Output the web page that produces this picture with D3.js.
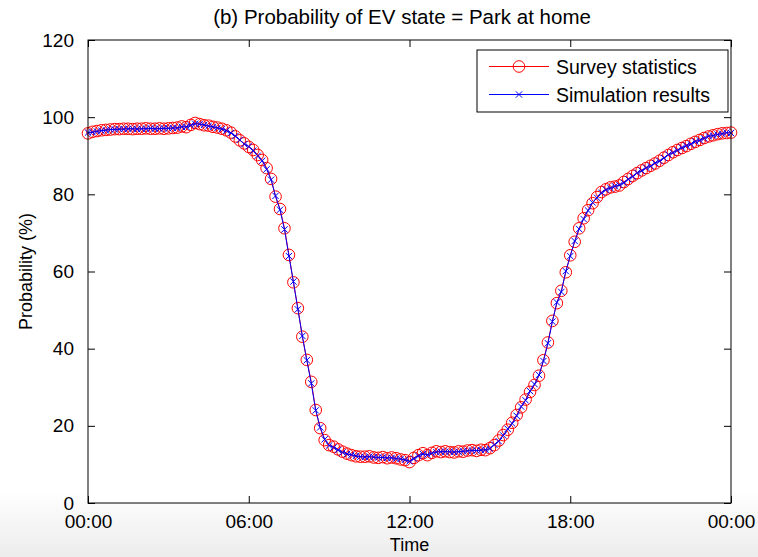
<!DOCTYPE html>
<html>
<head>
<meta charset="utf-8">
<script src="https://cdn.jsdelivr.net/npm/d3@7"></script>
<style>
  html, body { margin: 0; padding: 0; background: #ffffff; }
  svg { display: block; font-family: "Liberation Sans", Arial, sans-serif; }
</style>
</head>
<body>
<svg id="chart" width="758" height="557"></svg>
<script>
// Share of EVs parked at home, sampled every 10 minutes over one day (0..1440 min)
const stepMinutes = 10;

const surveyStatistics = [
  95.8, 96.2, 96.4, 96.6, 96.7, 96.8, 96.9, 96.9, 97.0, 97.0,
  96.9, 97.0, 97.0, 97.1, 97.0, 97.0, 97.1, 97.0, 97.1, 97.2,
  97.3, 97.6, 97.4, 98.0, 98.5, 98.2, 97.9, 97.8, 97.5, 97.3,
  97.0, 96.6, 96.0, 95.0, 94.0, 93.2, 92.3, 91.5, 90.2, 88.9,
  86.8, 84.0, 79.4, 76.2, 71.2, 64.3, 57.2, 50.5, 43.1, 37.1,
  31.4, 24.1, 19.4, 16.3, 15.0, 14.6, 13.9, 13.3, 12.8, 12.4,
  12.1, 12.0, 12.0, 12.1, 11.8, 11.7, 11.9, 11.6, 11.8, 11.6,
  11.3, 11.1, 10.6, 11.7, 12.4, 12.9, 12.4, 13.0, 13.4, 13.2,
  13.4, 13.2, 13.1, 13.4, 13.3, 13.6, 13.7, 13.5, 13.8, 13.7,
  14.2, 15.0, 16.2, 17.6, 19.0, 20.8, 22.8, 24.8, 26.8, 28.8,
  30.6, 33.0, 37.0, 41.6, 47.2, 51.8, 55.0, 59.8, 64.2, 67.7,
  71.2, 73.8, 75.9, 77.7, 79.3, 80.6, 81.3, 81.8, 82.0, 82.3,
  83.2, 84.0, 84.8, 85.5, 86.2, 86.8, 87.4, 88.0, 88.7, 89.5,
  90.2, 90.9, 91.5, 92.0, 92.5, 93.1, 93.6, 94.1, 94.6, 95.0,
  95.3, 95.6, 95.8, 95.9, 96.0
];

const simulationResults = [
  96.0, 96.1, 96.3, 96.5, 96.6, 96.8, 96.8, 96.9, 96.9, 97.0,
  97.0, 96.9, 97.0, 97.0, 97.1, 97.0, 97.0, 97.1, 97.1, 97.2,
  97.2, 97.5, 97.5, 97.9, 98.3, 98.2, 98.0, 97.7, 97.5, 97.2,
  96.9, 96.5, 95.9, 95.1, 94.1, 93.0, 92.4, 91.3, 90.0, 88.7,
  86.5, 83.8, 79.6, 76.0, 70.9, 64.0, 57.4, 50.2, 43.3, 37.0,
  31.0, 24.0, 19.6, 16.5, 14.9, 14.4, 13.7, 13.1, 12.7, 12.5,
  12.2, 12.0, 11.9, 12.0, 11.9, 11.8, 11.8, 11.7, 11.7, 11.5,
  11.4, 11.2, 10.8, 11.5, 12.2, 12.7, 12.5, 12.9, 13.2, 13.3,
  13.3, 13.3, 13.2, 13.3, 13.4, 13.5, 13.6, 13.6, 13.7, 13.8,
  14.1, 15.1, 16.0, 17.5, 19.2, 20.6, 22.6, 25.0, 26.6, 29.0,
  30.8, 33.2, 36.8, 41.4, 47.0, 52.0, 54.7, 60.1, 64.0, 67.9,
  71.0, 73.6, 75.8, 77.9, 79.1, 80.4, 81.2, 81.6, 82.1, 82.4,
  83.0, 83.9, 84.6, 85.6, 86.1, 86.9, 87.3, 88.1, 88.6, 89.4,
  90.3, 90.8, 91.4, 92.1, 92.6, 93.0, 93.7, 94.0, 94.5, 95.1,
  95.2, 95.5, 95.7, 96.0, 95.9
];

const xTickMinutes = [0, 360, 720, 1080, 1440];
const xTickLabels = ["00:00", "06:00", "12:00", "18:00", "00:00"];
const yTicks = [0, 20, 40, 60, 80, 100, 120];
const legendLabels = ["Survey statistics", "Simulation results"];
const titleText = "(b) Probability of EV state = Park at home";
const xLabelText = "Time";
const yLabelText = "Probability (%)";

const svg = d3.select("#chart");
const W = 758, H = 557;
const plot = { left: 88, right: 731, top: 40, bottom: 503 };

// soft grey fade along the bottom edge of the figure
const defs = svg.append("defs");
const fade = defs.append("linearGradient").attr("id", "bottomFade")
  .attr("x1", 0).attr("y1", 0).attr("x2", 0).attr("y2", 1);
fade.append("stop").attr("offset", "0%").attr("stop-color", "#ffffff");
fade.append("stop").attr("offset", "100%").attr("stop-color", "#ececec");
svg.append("rect").attr("x", 0).attr("y", 0).attr("width", W).attr("height", H).attr("fill", "#ffffff");
svg.append("rect").attr("x", 0).attr("y", 490).attr("width", W).attr("height", H - 490).attr("fill", "url(#bottomFade)");
svg.append("rect").attr("x", plot.left).attr("y", plot.top)
  .attr("width", plot.right - plot.left).attr("height", plot.bottom - plot.top).attr("fill", "#ffffff");

const x = d3.scaleLinear().domain([0, 1440]).range([plot.left, plot.right]);
const y = d3.scaleLinear().domain([0, 120]).range([plot.bottom, plot.top]);

const toPoints = arr => arr.map((v, i) => ({ t: i * stepMinutes, v }));
const surveyPts = toPoints(surveyStatistics);
const simPts = toPoints(simulationResults);

const line = d3.line().x(d => x(d.t)).y(d => y(d.v));

const tickFont = 19;
const tickLen = 7;

// axes: ticks drawn inward on all four sides, labels on bottom and left
const bottomAxis = d3.axisBottom(x).tickValues(xTickMinutes)
  .tickFormat((d, i) => xTickLabels[i]).tickSizeInner(-tickLen).tickSizeOuter(0).tickPadding(12);
const leftAxis = d3.axisLeft(y).tickValues(yTicks).tickSizeInner(-tickLen).tickSizeOuter(0).tickPadding(14);
const topAxis = d3.axisTop(x).tickValues(xTickMinutes).tickFormat("").tickSizeInner(-tickLen).tickSizeOuter(0);
const rightAxis = d3.axisRight(y).tickValues(yTicks).tickFormat("").tickSizeInner(-tickLen).tickSizeOuter(0);

function styleAxis(g) {
  g.select(".domain").remove();
  g.selectAll(".tick line").attr("stroke", "#000").attr("stroke-width", 1);
  g.selectAll(".tick text").attr("fill", "#000").attr("font-size", tickFont)
    .attr("font-family", "Liberation Sans, Arial, sans-serif");
}

// data series: survey (red line + circles) then simulation (blue line + crosses)
const gData = svg.append("g");
gData.append("path").datum(surveyPts).attr("d", line)
  .attr("fill", "none").attr("stroke", "#ff0000").attr("stroke-width", 1);
gData.selectAll("circle.survey").data(surveyPts).join("circle").attr("class", "survey")
  .attr("cx", d => x(d.t)).attr("cy", d => y(d.v)).attr("r", 5.8)
  .attr("fill", "none").attr("stroke", "#ff0000").attr("stroke-width", 1);

gData.append("path").datum(simPts).attr("d", line)
  .attr("fill", "none").attr("stroke", "#0000ff").attr("stroke-width", 1);
const cross = d3.symbol().type(d3.symbolX).size(28);
gData.selectAll("path.sim").data(simPts).join("path").attr("class", "sim")
  .attr("transform", d => `translate(${x(d.t)},${y(d.v)})`)
  .attr("d", cross).attr("fill", "none").attr("stroke", "#0000ff").attr("stroke-width", 1);

svg.append("g").attr("transform", `translate(0,${plot.bottom})`).call(bottomAxis).call(styleAxis);
svg.append("g").attr("transform", `translate(${plot.left},0)`).call(leftAxis).call(styleAxis);
svg.append("g").attr("transform", `translate(0,${plot.top})`).call(topAxis).call(styleAxis);
svg.append("g").attr("transform", `translate(${plot.right},0)`).call(rightAxis).call(styleAxis);

// axes box
svg.append("rect").attr("x", plot.left).attr("y", plot.top)
  .attr("width", plot.right - plot.left).attr("height", plot.bottom - plot.top)
  .attr("fill", "none").attr("stroke", "#000").attr("stroke-width", 1);

// titles
svg.append("text").attr("x", 402).attr("y", 24)
  .attr("text-anchor", "middle").attr("font-size", 20.5).attr("fill", "#000").text(titleText);
svg.append("text").attr("x", (plot.left + plot.right) / 2).attr("y", 551)
  .attr("text-anchor", "middle").attr("font-size", 18).attr("fill", "#000").text(xLabelText);
svg.append("text").attr("transform", `translate(32,${(plot.top + plot.bottom) / 2}) rotate(-90)`)
  .attr("text-anchor", "middle").attr("font-size", 18).attr("fill", "#000").text(yLabelText);

// legend
const lg = svg.append("g");
const box = { x: 477, y: 50, w: 251, h: 62 };
lg.append("rect").attr("x", box.x).attr("y", box.y).attr("width", box.w).attr("height", box.h)
  .attr("fill", "#fff").attr("stroke", "#000").attr("stroke-width", 1);
const rows = [
  { label: legendLabels[0], color: "#ff0000", marker: "circle", cy: 66.5 },
  { label: legendLabels[1], color: "#0000ff", marker: "cross", cy: 94.5 }
];
rows.forEach(r => {
  lg.append("line").attr("x1", 489).attr("x2", 549).attr("y1", r.cy).attr("y2", r.cy)
    .attr("stroke", r.color).attr("stroke-width", 1);
  if (r.marker === "circle") {
    lg.append("circle").attr("cx", 519).attr("cy", r.cy).attr("r", 5.8)
      .attr("fill", "none").attr("stroke", r.color).attr("stroke-width", 1);
  } else {
    lg.append("path").attr("transform", `translate(519,${r.cy})`).attr("d", cross)
      .attr("fill", "none").attr("stroke", r.color).attr("stroke-width", 1);
  }
  lg.append("text").attr("x", 556).attr("y", r.cy + 7).attr("font-size", 19.5)
    .attr("fill", "#000").text(r.label);
});
</script>
</body>
</html>
